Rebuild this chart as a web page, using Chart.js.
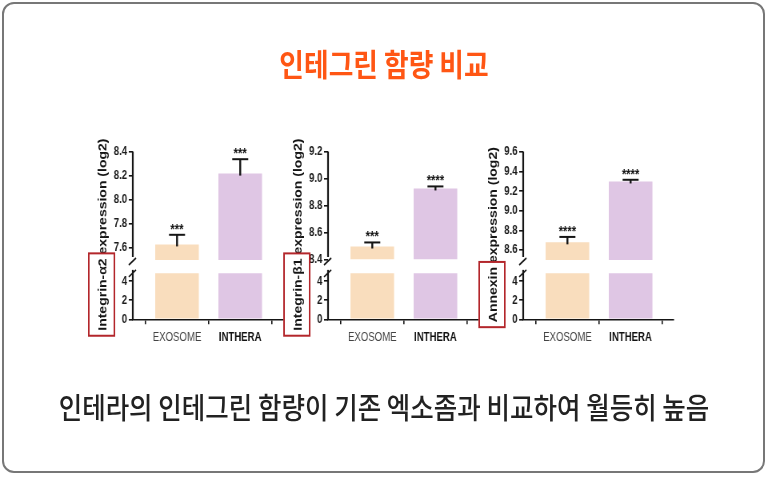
<!DOCTYPE html>
<html>
<head>
<meta charset="utf-8">
<script src="https://cdn.jsdelivr.net/npm/chart.js@4.4.1/dist/chart.umd.min.js"></script>
<style>
  html, body { margin: 0; padding: 0; background: #fff; }
  body { width: 768px; height: 479px; position: relative; overflow: hidden; }
  #frame {
    position: absolute; left: 2px; top: 2px; width: 763px; height: 471px;
    box-sizing: border-box; border: 2px solid #777; border-radius: 12px;
  }
  /* the source picture is squeezed horizontally, so lay out at 960 wide and squeeze */
  #stage {
    position: absolute; left: 0; top: 0; width: 960px; height: 479px;
    transform: scaleX(0.8); transform-origin: 0 0;
  }
  .title {
    position: absolute; left: 0; width: 960px; top: 47px; text-align: center;
    font: bold 31px/31px "Noto Sans CJK KR", sans-serif; color: #ff5614;
    transform: scaleX(1.08); transform-origin: 480px 0;
  }
  .caption {
    position: absolute; left: 0; width: 960px; top: 392px; text-align: center;
    font: 500 29px/29px "Noto Sans CJK KR", sans-serif; color: #222;
    transform: scaleX(1.1); transform-origin: 480px 0;
  }
  .panel { position: absolute; top: 125px; width: 258px; height: 230px; }
  .panel canvas { display: block; }
</style>
</head>
<body>
<div id="frame"></div>
<div id="stage">
  <div class="title">인테그린 함량 비교</div>
  <div class="panel" style="left:102px"><canvas id="c0" width="258" height="230"></canvas></div>
  <div class="panel" style="left:346px"><canvas id="c1" width="258" height="230"></canvas></div>
  <div class="panel" style="left:590px"><canvas id="c2" width="258" height="230"></canvas></div>
  <div class="caption">인테라의 인테그린 함량이 기존 엑소좀과 비교하여 월등히 높음</div>
</div>
<script>
// data
const categories = ['EXOSOME', 'INTHERA'];
const panelLabels = ['Integrin-α2', 'Integrin-β1', 'Annexin'];
const means = [[7.63, 8.22], [8.50, 8.93], [8.68, 9.30]];
const errors = [[0.08, 0.12], [0.03, 0.015], [0.055, 0.017]];
const significance = [['***', '***'], ['***', '****'], ['****', '****']];
const upperTicks = [
  [7.6, 7.8, 8.0, 8.2, 8.4],
  [8.4, 8.6, 8.8, 9.0, 9.2],
  [8.6, 8.8, 9.0, 9.2, 9.4, 9.6]
];
const upperRange = [[7.5, 8.4], [8.4, 9.2], [8.5, 9.6]];
const lowerTicks = [0, 2, 4];
const lowerMax = 6.24;     // lower axis segment range
const lowerBarTop = 4.85;  // bars are cut here in the lower segment
const lowerAxisTop = 5.2;

// styles
const barColors = ['#f9ddbd', '#dfc6e4'];
const inkColor = '#151515';
const boxColor = '#b3262b';
const tickFont = { family: '"Liberation Sans", Arial, sans-serif', size: 12, weight: 'bold' };

function makePanel(p) {
  const decor = {
    id: 'decor' + p,
    afterDatasetsDraw(chart) {
      const { ctx, chartArea, scales: { yUp, yLow } } = chart;
      const ax = chartArea.left;
      const line = (x1, y1, x2, y2) => {
        ctx.beginPath(); ctx.moveTo(x1, y1); ctx.lineTo(x2, y2); ctx.stroke();
      };
      ctx.save();
      ctx.strokeStyle = inkColor;
      ctx.lineCap = 'butt';

      // broken y axis
      const upTop = yUp.getPixelForValue(upperRange[p][1]);
      const upEnd = yUp.getPixelForValue(upperRange[p][0]) - 3;
      const lowTop = yLow.getPixelForValue(lowerAxisTop);
      const lowEnd = yLow.getPixelForValue(0);
      ctx.lineWidth = 2.2;
      line(ax, upTop - 0.5, ax, upEnd);
      line(ax, lowTop, ax, lowEnd + 0.5);
      ctx.lineWidth = 1.6;
      line(ax + 4, upEnd + 1, ax - 5, upEnd + 8);
      line(ax + 4, lowTop, ax - 5, lowTop + 7);

      // error bars + significance marks
      const meta = chart.getDatasetMeta(0);
      meta.data.forEach((bar, i) => {
        const top = yUp.getPixelForValue(means[p][i] + errors[p][i]);
        ctx.lineWidth = 2.4;
        line(bar.x, bar.y + 2, bar.x, top);
        ctx.lineWidth = 2;
        line(bar.x - 10, top, bar.x + 10, top);
        ctx.fillStyle = inkColor;
        ctx.font = 'bold 14px "Liberation Sans", Arial, sans-serif';
        ctx.textAlign = 'center';
        ctx.textBaseline = 'alphabetic';
        ctx.fillText(significance[p][i], bar.x, top - 1);
      });

      // y title with the highlighted protein name
      const cx = ax - 37;
      const cy = (chartArea.top + chartArea.bottom) / 2 - 1;
      ctx.translate(cx, cy);
      ctx.rotate(-Math.PI / 2);
      ctx.font = 'bold 14px "Liberation Sans", Arial, sans-serif';
      const full = panelLabels[p] + ' expression (log2)';
      const w = ctx.measureText(full).width;
      const lw = ctx.measureText(panelLabels[p]).width;
      ctx.textAlign = 'left';
      ctx.textBaseline = 'middle';
      ctx.fillText(full, -w / 2, 0);
      ctx.strokeStyle = boxColor;
      ctx.lineWidth = 2;
      ctx.strokeRect(-w / 2 - 5, -18, lw + 10, 32);
      ctx.restore();
    }
  };

  const yCommon = {
    type: 'linear',
    position: 'left',
    stack: 'panel' + p,
    border: { display: false },
    grid: { drawOnChartArea: false, drawTicks: true, tickLength: 5, color: inkColor, lineWidth: 1.6 },
    ticks: { font: tickFont, color: '#1a1a1a', padding: 2, autoSkip: false },
    afterFit: s => { s.width = 64; }
  };

  new Chart(document.getElementById('c' + p), {
    type: 'bar',
    data: {
      datasets: [
        {
          yAxisID: 'yUp',
          base: upperRange[p][0],
          data: means[p].map((v, i) => ({ x: i + 1, y: v })),
          backgroundColor: barColors,
          borderWidth: 0,
          grouped: false,
          categoryPercentage: 1,
          barPercentage: 0.69
        },
        {
          yAxisID: 'yLow',
          data: means[p].map((v, i) => ({ x: i + 1, y: Math.min(v, lowerBarTop) })),
          backgroundColor: barColors,
          borderWidth: 0,
          grouped: false,
          categoryPercentage: 1,
          barPercentage: 0.69
        }
      ]
    },
    options: {
      responsive: false,
      animation: false,
      layout: { padding: { top: 27, right: 6, left: 0, bottom: 0 } },
      plugins: { legend: { display: false }, tooltip: { enabled: false } },
      scales: {
        x: {
          type: 'linear',
          min: 0.3,
          max: 2.68,
          offset: false,
          afterBuildTicks: s => { s.ticks = categories.map((c, i) => ({ value: i + 1 })); },
          ticks: {
            callback: (v, i) => categories[i],
            font: c => ({ family: '"Liberation Sans", Arial, sans-serif', size: 12, weight: c.index === 1 ? 'bold' : 'normal' }),
            color: c => (c.index === 1 ? '#111' : '#444'),
            padding: 6,
            maxRotation: 0,
            autoSkip: false
          },
          grid: { drawOnChartArea: false, drawTicks: true, tickLength: 5, color: inkColor, lineWidth: 1.6 },
          border: { color: inkColor, width: 1.6 },
          afterFit: s => { s.height = 35.7; }
        },
        yLow: Object.assign({}, yCommon, {
          stackWeight: 59.3,
          min: 0,
          max: lowerMax,
          afterBuildTicks: s => { s.ticks = lowerTicks.map(v => ({ value: v })); },
          ticks: Object.assign({}, yCommon.ticks, { callback: v => String(v) })
        }),
        yUp: Object.assign({}, yCommon, {
          stackWeight: 108,
          min: upperRange[p][0],
          max: upperRange[p][1],
          afterBuildTicks: s => { s.ticks = upperTicks[p].map(v => ({ value: v })); },
          ticks: Object.assign({}, yCommon.ticks, { callback: v => v.toFixed(1) })
        })
      }
    },
    plugins: [decor]
  });
}

[0, 1, 2].forEach(makePanel);
</script>
</body>
</html>
